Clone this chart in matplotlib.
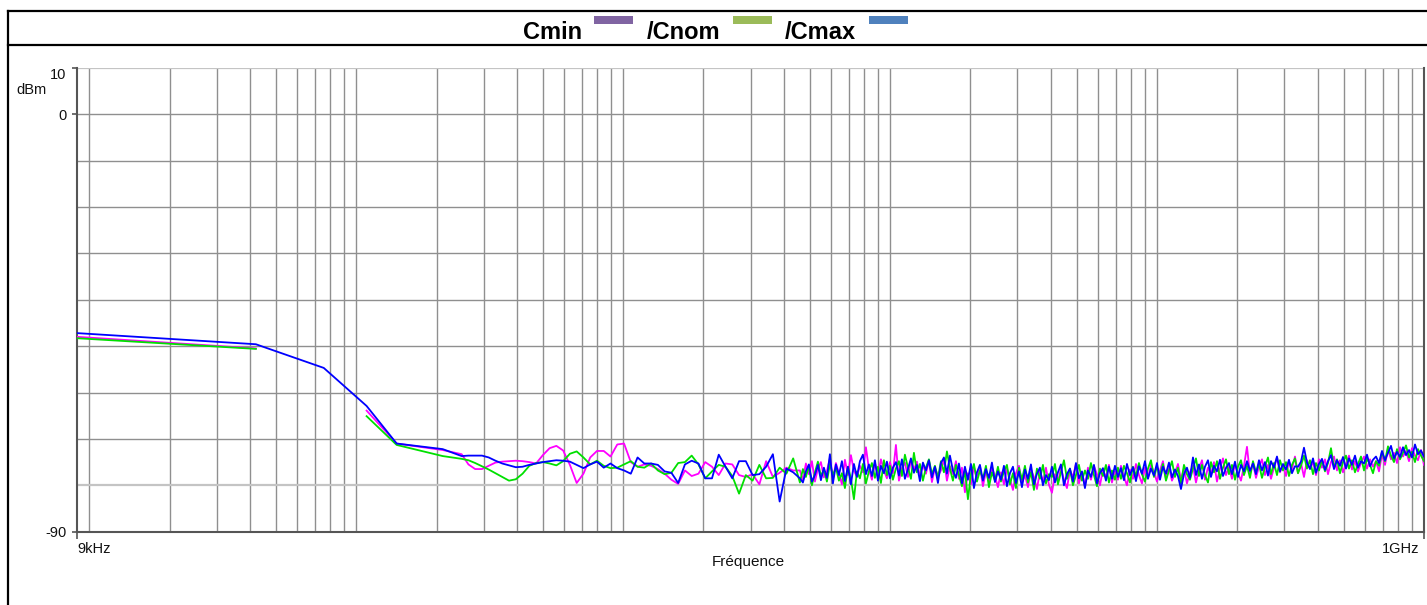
import numpy as np
import matplotlib.pyplot as plt
from matplotlib.lines import Line2D
from matplotlib.patches import Rectangle
from matplotlib.ticker import NullLocator
from matplotlib.transforms import ScaledTranslation

plt.rcParams['font.family'] = ['Liberation Sans', 'DejaVu Sans']

nan = np.nan

# low band points (Hz)
low_freq = [9e3, 42.1e3, 75.6e3, 109.4e3, 141.8e3, 210.9e3]
cmin_low = [-48.0, -50.5, nan, -63.9, -71.0, -72.4]
cnom_low = [-48.3, -50.6, nan, -65.1, -71.3, -73.7]
cmax_low = [-47.2, -49.6, -54.7, -62.9, -71.0, -72.2]

# middle band, 248 kHz .. 4.3 MHz
F_MID0, F_MID1 = 248.4e3, 4.335e6
cmin_mid = [-73.3, -75.5, -76.5, -76.5, -75.8, -75.1, -74.9, -74.8, -74.7, -74.8,
            -75.0, -75.3, -73.5, -72.0, -71.5, -72.5, -75.6, -79.5, -77.5, -74.0,
            -72.6, -72.6, -73.8, -71.2, -71.0, -75.0, -76.0, -75.5, -75.8, -76.5,
            -77.5, -78.8, -79.7, -76.8, -78.0, -77.5, -75.0, -76.0, -77.8, -75.3,
            -75.5, -77.8, -78.2, -77.6, -79.8, -74.8, -78.2, -77.3, -76.2, -76.8]
cnom_mid = [-74.3, -74.6, -75.2, -75.9, -76.6, -77.4, -78.2, -79.0, -78.7, -77.5,
            -75.8, -75.2, -75.0, -75.3, -75.7, -74.8, -73.2, -72.7, -74.0, -75.5,
            -74.7, -75.8, -76.3, -76.2, -75.5, -74.8, -76.0, -76.2, -75.3, -76.8,
            -77.6, -77.3, -75.2, -75.0, -73.6, -75.5, -78.5, -77.0, -75.6, -76.0,
            -78.0, -81.8, -77.8, -79.0, -75.6, -78.5, -78.4, -76.2, -77.5, -74.2]
cmax_mid = [-73.7, -73.6, -73.6, -73.6, -74.0, -74.7, -75.3, -75.7, -76.1, -76.0,
            -75.6, -75.3, -75.0, -74.8, -74.6, -74.7, -74.9, -75.6, -76.3, -75.5,
            -74.9, -76.2, -75.3, -76.3, -76.8, -77.5, -74.0, -75.3, -75.3, -75.6,
            -77.0, -77.3, -79.5, -75.5, -74.7, -75.3, -78.5, -78.5, -73.4, -76.0,
            -78.5, -74.8, -74.8, -77.8, -77.6, -76.0, -73.3, -83.5, -76.4, -77.2]

# dense band, 4.6 MHz .. 1 GHz
F_DENSE0, F_END = 4.594e6, 1e9
cmin_dense = [
    -76.8, -78.9, -75.3, -77.6, -74.8, -79.2, -76.4, -75.0, -78.3, -76.9,
    -74.2, -78.6, -75.2, -77.4, -79.8, -74.5, -77.8, -73.5, -76.9, -78.1,
    -75.8, -77.2, -71.8, -76.5, -78.8, -75.2, -77.9, -74.4, -76.8, -78.5,
    -75.0, -77.4, -71.3, -79.0, -76.3, -75.1, -78.2, -74.6, -76.6, -74.9,
    -78.0, -75.6, -77.5, -74.7, -79.3, -76.2, -78.0,
    -76.8, -74.5, -79.0, -75.9, -77.6, -74.8, -78.6,
    -76.2, -81.5, -77.4, -79.8, -76.0, -78.6, -75.8, -80.2, -77.0, -79.4,
    -76.2, -78.0, -80.4,
    -77.2, -79.8, -76.4, -78.6, -81.0, -77.4, -75.8, -79.6, -77.8, -80.4,
    -76.6, -78.2, -80.8, -77.0, -79.2, -76.2, -79.9,
    -81.6, -77.6, -79.2, -76.4, -78.8, -80.6, -76.8, -78.2, -75.4, -79.6,
    -77.2, -80.2, -76.2, -78.8, -75.8, -77.6, -80.0, -76.6, -78.4, -75.6,
    -79.4, -77.0, -78.8,
    -75.8, -78.2, -80.0, -76.6, -78.6, -75.4, -77.8, -79.6, -76.2, -78.4,
    -75.6, -77.2, -79.2, -76.8, -74.8, -78.6, -76.0, -79.0, -77.4, -75.4,
    -78.8, -76.4, -79.6, -77.2,
    -75.8, -79.4, -76.6, -74.6, -78.8, -76.2, -77.6, -75.0, -79.2, -76.4,
    -74.2, -77.8, -76.0, -78.6, -75.4, -77.4, -79.0, -75.8, -71.7, -77.6,
    -75.2, -78.4, -76.0, -74.4, -77.8, -75.6, -78.6, -76.2, -74.0, -77.2,
    -75.6, -78.0, -74.8, -76.6, -73.8, -77.4, -75.2, -78.2, -74.6, -76.4,
    -75.0, -77.8, -74.4,
    -76.2, -74.4, -77.6, -75.0, -73.8, -76.8, -74.6, -77.2, -75.4, -73.6,
    -76.6, -74.8, -77.0, -75.2, -73.8, -76.4, -74.4, -76.0, -74.8, -77.0,
    -73.4, -75.6, -72.2, -74.4, -73.0, -75.2, -71.8, -73.8, -72.6, -74.8,
    -72.0, -73.6, -74.6, -72.4, -75.6]
cnom_dense = [
    -79.4, -76.5, -78.2, -75.8, -80.0, -77.2, -74.9, -78.0, -76.6, -79.2,
    -75.4, -77.8, -76.2, -79.0, -77.4, -80.6, -76.0, -78.5, -83.0, -77.0,
    -78.5, -75.4, -79.6, -77.0, -75.2, -78.4, -76.0, -79.5, -74.6, -77.8,
    -75.8, -78.8, -76.4, -74.8, -78.0, -73.4, -76.2, -78.6, -73.0, -77.2,
    -75.4, -79.0, -76.2, -74.4, -77.6, -75.8, -78.4,
    -74.8, -77.2, -72.7, -76.4, -79.0, -75.6, -77.8,
    -80.2, -76.8, -83.0, -77.6, -75.4, -79.2, -76.8, -78.6, -75.8, -80.4,
    -77.2, -79.0, -76.0,
    -79.2, -77.0, -75.6, -79.8, -77.4, -80.6, -76.2, -78.8, -75.8, -79.4,
    -77.2, -81.0, -76.4, -78.6, -75.6, -79.6, -77.6,
    -78.2, -75.4, -79.8, -77.2, -74.6, -78.6, -76.4, -80.0, -77.8, -75.6,
    -79.0, -76.8, -78.6, -75.2, -77.8, -80.2, -76.4, -78.0, -75.6, -79.4,
    -76.8, -78.8, -76.2,
    -78.6, -75.8, -77.4, -79.4, -76.0, -78.0, -75.2, -77.6, -79.2, -76.4,
    -74.6, -78.2, -76.0, -77.8, -75.4, -79.0, -76.8, -74.8, -78.2, -76.2,
    -79.6, -75.6, -77.6, -78.8,
    -76.4, -74.2, -78.0, -75.6, -77.8, -79.4, -75.0, -77.2, -74.8, -78.6,
    -76.2, -74.4, -77.6, -75.6, -78.8, -76.0, -74.6, -77.8, -75.8, -78.4,
    -74.8, -77.2, -75.4, -78.4, -76.0, -74.0, -77.6, -75.2, -77.8, -74.6,
    -76.8, -75.0, -78.0, -75.6, -74.2, -77.4, -75.8, -73.6, -76.4, -74.6,
    -77.6, -75.2, -76.8,
    -74.6, -77.0, -75.2, -72.0, -76.2, -74.4, -77.4, -75.0, -73.6, -76.4,
    -74.6, -77.2, -75.4, -73.8, -76.8, -74.2, -75.6, -77.4, -74.8, -75.8,
    -72.8, -74.8, -71.6, -73.6, -75.0, -72.2, -74.4, -73.0, -71.4, -74.0,
    -72.8, -75.0, -72.2, -73.6, -74.8]
cmax_dense = [
    -78.5, -79.4, -77.0, -75.5, -79.2, -77.8, -75.6, -78.9, -76.2, -78.4,
    -73.3, -79.6, -75.5, -77.8, -74.8, -79.1, -76.0, -79.8, -75.4, -78.2,
    -74.8, -73.4, -77.6, -75.5, -78.0, -74.6, -79.0, -75.8, -77.4, -74.9,
    -78.5, -76.2, -75.0, -77.9, -74.4, -78.6, -76.5, -74.2, -77.3, -75.6,
    -79.1, -75.1, -76.8, -74.6, -78.3, -76.0, -79.5,
    -75.2, -74.0, -77.5, -73.6, -76.8, -78.4, -75.3,
    -79.6, -76.0, -78.8, -75.4, -80.6, -77.2, -75.6, -79.0, -76.5, -78.4,
    -75.1, -79.3, -77.0,
    -78.8, -75.8, -80.2, -77.4, -76.0, -79.5, -77.0, -80.4, -76.6, -78.6,
    -75.5, -79.8, -77.5, -76.2, -80.0, -77.8, -78.9,
    -76.0, -79.4, -77.2, -75.5, -80.0, -77.6, -76.4, -79.2, -75.2, -78.5,
    -77.0, -80.6, -76.8, -78.2, -75.6, -79.6, -77.4, -76.3, -79.0, -76.0,
    -78.6, -75.8, -78.2,
    -76.3, -78.9, -75.4, -77.8, -76.1, -79.1, -75.9, -77.5, -74.8, -78.6,
    -76.4, -77.9, -75.2, -78.8, -76.0, -77.5, -75.1, -78.3, -76.6, -78.0,
    -80.8, -77.6, -76.2, -78.4,
    -74.0, -77.8, -75.5, -78.6, -76.0, -74.6, -78.2, -75.8, -77.0, -74.5,
    -78.0, -76.3, -75.2, -77.6, -74.9, -78.2, -75.6, -77.0, -74.8, -76.9,
    -75.3, -77.6, -74.6, -76.8, -75.0, -77.9, -74.8, -76.2, -73.8, -77.0,
    -75.4, -76.6, -74.5, -77.4, -75.9, -76.0, -74.9, -71.9, -75.1, -76.5,
    -74.2, -77.3, -75.4,
    -74.3, -76.7, -74.8, -73.5, -76.5, -74.6, -75.8, -73.9, -76.4, -74.2,
    -75.6, -73.6, -76.2, -74.8, -75.3, -73.4, -75.9, -74.5, -73.8, -75.2,
    -72.6, -74.6, -73.0, -71.5, -74.2, -72.8, -73.9, -71.8, -73.5, -72.4,
    -74.0, -71.2, -73.3, -72.5, -73.8]

series = [
    ('Cmin', '#ff00ff', '#8064a2', cmin_low, cmin_mid, cmin_dense),
    ('Cnom', '#00e000', '#9bbb59', cnom_low, cnom_mid, cnom_dense),
    ('Cmax', '#0000ff', '#4f81bd', cmax_low, cmax_mid, cmax_dense),
]

W, H = 1427, 605


def px(x, y):
    return x / W, 1 - y / H


fig = plt.figure(figsize=(W / 100, H / 100), dpi=100)
ax = fig.add_axes([77 / W, 1 - 531.7 / H, 1347 / W, 464 / H])
ax.set_xscale('log')
ax.set_xlim(9e3, 1e9)
ax.set_ylim(-90, 10)

# grid
vgrid = [m * 10 ** e for e in range(4, 9) for m in range(1, 10)]
ax.vlines(vgrid, -90, 10, colors='#8f8f8f', lw=1.0, zorder=1)
for v in range(-80, 11, 10):
    light = v in (10, -80)
    ax.axhline(v, color='#c4c4c4' if light else '#8f8f8f', lw=1.6 if light else 1.0, zorder=1)

for name, c, _, lo, mid, dense in series:
    f = np.concatenate([low_freq,
                        np.geomspace(F_MID0, F_MID1, len(mid)),
                        np.geomspace(F_DENSE0, F_END, len(dense))])
    y = np.concatenate([lo, mid, dense])
    ax.plot(f, y, color=c, lw=1.3, zorder=3)

for s in ('left', 'bottom', 'right'):
    ax.spines[s].set_color('#555555')
    ax.spines[s].set_linewidth(1.5)
ax.spines['top'].set_visible(False)

ax.xaxis.set_minor_locator(NullLocator())
ax.set_xticks([9e3, 1e9], ['9kHz', '1GHz'])
ax.set_yticks([-90, 0, 10], ['-90', '0', '10'])
ax.tick_params(axis='x', length=5, width=1.2, color='#555555', pad=2.5,
               labelsize=10.5, labelcolor='#111111')
ax.tick_params(axis='y', length=3.5, width=1.2, color='#555555', pad=4,
               labelsize=10.5, labelcolor='#111111')
xl = ax.get_xticklabels()
xl[0].set_ha('left')
xl[1].set_ha('right')
xl[1].set_transform(xl[1].get_transform() + ScaledTranslation(-5 / 100, 0, fig.dpi_scale_trans))
ax.get_yticklabels()[2].set_va('top')

fig.text(*px(16, 90.5), 'dBm', ha='left', va='center', fontsize=10.5, color='#111111')
fig.text(*px(748, 562), 'Fréquence', ha='center', va='center', fontsize=11, color='#111111')

# title band with legend patches
title_x = [523.3, 646.7, 785.0]
patch_x = [594.3, 733.3, 869.3]
for i, (name, _, pc, *_) in enumerate(series):
    label = name if i == 0 else '/' + name
    fig.text(*px(title_x[i], 39), label, ha='left', va='baseline',
             fontsize=17, fontweight='bold', color='black')
    x0, y0 = px(patch_x[i], 24)
    fig.add_artist(Rectangle((x0, y0), 38.4 / W, 8 / H, transform=fig.transFigure,
                             facecolor=pc, edgecolor='none'))

# outer frame
fig.add_artist(Line2D([7.8 / W, 1], [1 - 11 / H] * 2, color='black', lw=1.6))
fig.add_artist(Line2D([7.8 / W, 1], [1 - 44.5 / H] * 2, color='black', lw=1.6))
fig.add_artist(Line2D([7.8 / W] * 2, [0, 1 - 11 / H], color='black', lw=1.6))

fig.savefig('out.png', dpi=100)
